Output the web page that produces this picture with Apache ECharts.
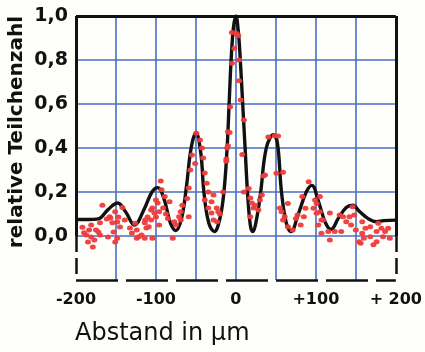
<!DOCTYPE html>
<html>
<head>
<meta charset="utf-8">
<script src="https://cdn.jsdelivr.net/npm/echarts@6/dist/echarts.min.js"></script>
<style>
  html, body { margin: 0; padding: 0; background: #fefefb; }
  #chart { width: 425px; height: 352px; }
</style>
</head>
<body>
<div id="chart"></div>
<script>
const curvePoints = [
  [-200, 0.075], [-185, 0.075], [-172, 0.078], [-160, 0.12], [-148, 0.15], [-138, 0.11],
  [-127, 0.05], [-115, 0.12], [-105, 0.2], [-98, 0.22], [-90, 0.17], [-82, 0.06],
  [-75, 0.025], [-68, 0.08], [-62, 0.22], [-56, 0.4], [-50, 0.47], [-44, 0.38],
  [-40, 0.2], [-34, 0.06], [-27, 0.02], [-20, 0.08], [-15, 0.2], [-11, 0.4],
  [-8.5, 0.6], [-6, 0.8], [-3, 0.95], [0, 1.0], [3, 0.93], [5.5, 0.8], [8.5, 0.6],
  [11.5, 0.4], [14.5, 0.2], [18, 0.05], [21, 0.02], [26, 0.08], [31, 0.2], [38, 0.4],
  [47, 0.46], [52, 0.42], [57, 0.2], [63, 0.06], [69, 0.02], [78, 0.1], [88, 0.2],
  [95, 0.23], [103, 0.16], [112, 0.06], [119, 0.03], [128, 0.08], [138, 0.13],
  [146, 0.14], [155, 0.11], [165, 0.08], [176, 0.065], [185, 0.07], [200, 0.072]
];

const measuredPoints = [
  [-192, 0.04], [-190, 0.015], [-187, 0.005], [-183.6, 0.027], [-181, 0.05], [-181, -0.005],
  [-177, -0.018], [-185, -0.027], [-179, -0.05], [-175, 0.027], [-172, 0.018], [-170, 0.06],
  [-170, 0.005], [-167, 0.14], [-161.5, 0.077], [-160, -0.005], [-158, 0.088],
  [-157, 0.082], [-154.5, 0.06], [-151, 0.11], [-148.5, 0.064], [-147, 0.086], [-142, 0.13],
  [-139, 0.073], [-145, 0.041], [-153, 0.018], [-148.5, -0.01], [-151, -0.027],
  [-132.5, 0.036], [-124, 0.027], [-130, 0.014], [-124, -0.01], [-118, 0.005],
  [-126, 0.058], [-121.6, -0.003],
  [-114, -0.01], [-104.5, -0.01], [-112, 0.036], [-114, 0.06], [-106, 0.073], [-110.5, 0.086],
  [-102, 0.105], [-104.5, 0.127], [-96, 0.11], [-98, 0.15], [-100, 0.164], [-94, 0.25],
  [-96, 0.05], [-106, 0.118], [-89, 0.18], [-83, 0.156], [-91, 0.127], [-87.5, 0.1],
  [-100, 0.086], [-85, 0.08], [-67, 0.14], [-61, 0.17], [-69, 0.11], [-59, 0.088],
  [-69, 0.073], [-75, 0.05], [-79, -0.01], [-113.5, 0.073], [-109, 0.042], [-93, 0.21],
  [-77, 0.065], [-71, 0.088],
  [-49.5, 0.467], [-45, 0.436], [-42.5, 0.4], [-55, 0.368], [-41, 0.355], [-51, 0.33],
  [-57, 0.3], [-39, 0.286], [-59, 0.218], [-36.5, 0.24], [-34.5, 0.2], [-28, 0.186],
  [-39, 0.164], [-30.5, 0.156], [-24, 0.127], [-34.5, 0.127], [-22, 0.11], [-30.5, 0.104],
  [-16, 0.2], [-12, 0.34], [-11, 0.4], [-10, 0.474], [-28, 0.073], [-23.5, 0.065], [-20, 0.1],
  [-1, 1.01], [-5, 0.925], [1, 0.92], [3, 0.91], [-2, 0.853], [4, 0.8], [-5, 0.785],
  [4, 0.706], [6, 0.618], [-7.3, 0.588], [-8, 0.47], [10, 0.527], [-10, 0.41], [8, 0.37],
  [-12, 0.35], [10, 0.2],
  [40.5, 0.45], [52.7, 0.455], [48.6, 0.456], [16, 0.216], [18, 0.173], [24, 0.14],
  [22, 0.127], [28, 0.118], [32.5, 0.186], [36.5, 0.277], [50.7, 0.285], [59, 0.29],
  [18, 0.088], [55, 0.127], [57, 0.11], [65, 0.148], [59, 0.073], [65, 0.042], [71, 0.027],
  [75, 0.08], [81, 0.05], [77, 0.095], [85, 0.088], [83, 0.18], [91, 0.247], [99, 0.164],
  [105, 0.18], [97, 0.126], [101, 0.103], [87, 0.126], [107, 0.073], [34.4, 0.273],
  [30, 0.164], [61, 0.088], [20, 0.15],
  [101, 0.148], [105, 0.11], [109, 0.073], [103, 0.05], [115.5, 0.02], [117.5, -0.018],
  [123.6, 0.02], [131.7, 0.02], [129.7, 0.095], [138, 0.065], [142, 0.088], [146, 0.133],
  [148, 0.095], [144, 0.05], [150, 0.027], [158, 0.012], [154, -0.026], [162, 0.035],
  [168, 0.042], [160, -0.01], [168, -0.003], [176, 0.02], [178, 0.058], [182, 0.035],
  [186.5, 0.02], [184, -0.003], [192.5, -0.01], [190.5, 0.035], [176, -0.026], [158, 0.065],
  [156, -0.033], [172, -0.04], [107, 0.012], [134, 0.088], [117.5, 0.104]
];

const xTicks = [-200, -150, -100, -50, 0, 50, 100, 150, 200];
const xTickLabels = ['-200', '', '-100', '', '0', '', '+100', '', '+ 200'];
const yTicks = [-0.2, 0, 0.2, 0.4, 0.6, 0.8, 1.0];
const yTickLabels = ['', '0,0', '0,2', '0,4', '0,6', '0,8', '1,0'];

const blue = '#4a6cc6';
const ink = '#111';

const chart = echarts.init(document.getElementById('chart'));

const solid = { color: ink, width: 3, type: 'solid' };
const dashed = { color: ink, width: 2.5, type: [16, 6] };

chart.setOption({
  backgroundColor: '#fefefb',
  animation: false,
  grid: { left: 76, right: 20, top: 16, bottom: 72 },
  xAxis: {
    type: 'value',
    min: -200,
    max: 200,
    interval: 50,
    axisLine: { show: false },
    axisTick: { show: false },
    axisLabel: {
      margin: 12,
      fontFamily: 'DejaVu Sans',
      fontWeight: 'bold',
      fontSize: 16,
      color: ink,
      formatter: (v) => xTickLabels[xTicks.indexOf(Math.round(v))] || ''
    },
    splitLine: {
      lineStyle: {
        color: ['transparent', blue, blue, blue, blue, blue, blue, blue, 'transparent'],
        width: 1.6
      }
    }
  },
  yAxis: {
    type: 'value',
    min: -0.2,
    max: 1.0,
    interval: 0.2,
    axisLine: { show: false },
    axisTick: { show: false },
    axisLabel: {
      margin: 8,
      fontFamily: 'DejaVu Sans',
      fontWeight: 'bold',
      fontSize: 19,
      color: ink,
      formatter: (v) => {
        const i = yTicks.findIndex((t) => Math.abs(t - v) < 1e-6);
        return i >= 0 ? yTickLabels[i] : '';
      }
    },
    splitLine: {
      lineStyle: {
        color: ['transparent', blue, blue, blue, blue, blue, 'transparent'],
        width: 1.6
      }
    }
  },
  graphic: [
    {
      type: 'text',
      left: 7,
      top: 16,
      rotation: Math.PI / 2,
      originX: 0,
      originY: 0,
      style: {
        text: 'relative Teilchenzahl',
        font: 'bold 20px "DejaVu Sans"',
        fill: ink
      }
    },
    {
      type: 'text',
      left: 75,
      top: 322,
      style: {
        text: 'Abstand in µm',
        font: '24px "DejaVu Sans"',
        fill: ink
      }
    }
  ],
  series: [
    {
      type: 'line',
      data: curvePoints,
      smooth: 0.4,
      showSymbol: false,
      lineStyle: { color: ink, width: 3.4 },
      z: 3,
      markLine: {
        silent: true,
        symbol: 'none',
        label: { show: false },
        data: [
          [{ coord: [-200, 1], lineStyle: solid }, { coord: [200, 1] }],
          [{ coord: [-200, 1], lineStyle: solid }, { coord: [-200, 0] }],
          [{ coord: [200, 1], lineStyle: solid }, { coord: [200, 0] }],
          [{ coord: [-200, 0], lineStyle: dashed }, { coord: [-200, -0.2] }],
          [{ coord: [200, 0], lineStyle: dashed }, { coord: [200, -0.2] }],
          [{ coord: [-200, -0.2], lineStyle: { color: ink, width: 2.5, type: [42, 8] } }, { coord: [200, -0.2] }]
        ]
      }
    },
    {
      type: 'scatter',
      data: measuredPoints,
      symbol: 'circle',
      symbolSize: [6, 5],
      itemStyle: { color: '#ef3b3b', opacity: 0.95 },
      z: 4
    }
  ]
});
</script>
</body>
</html>
